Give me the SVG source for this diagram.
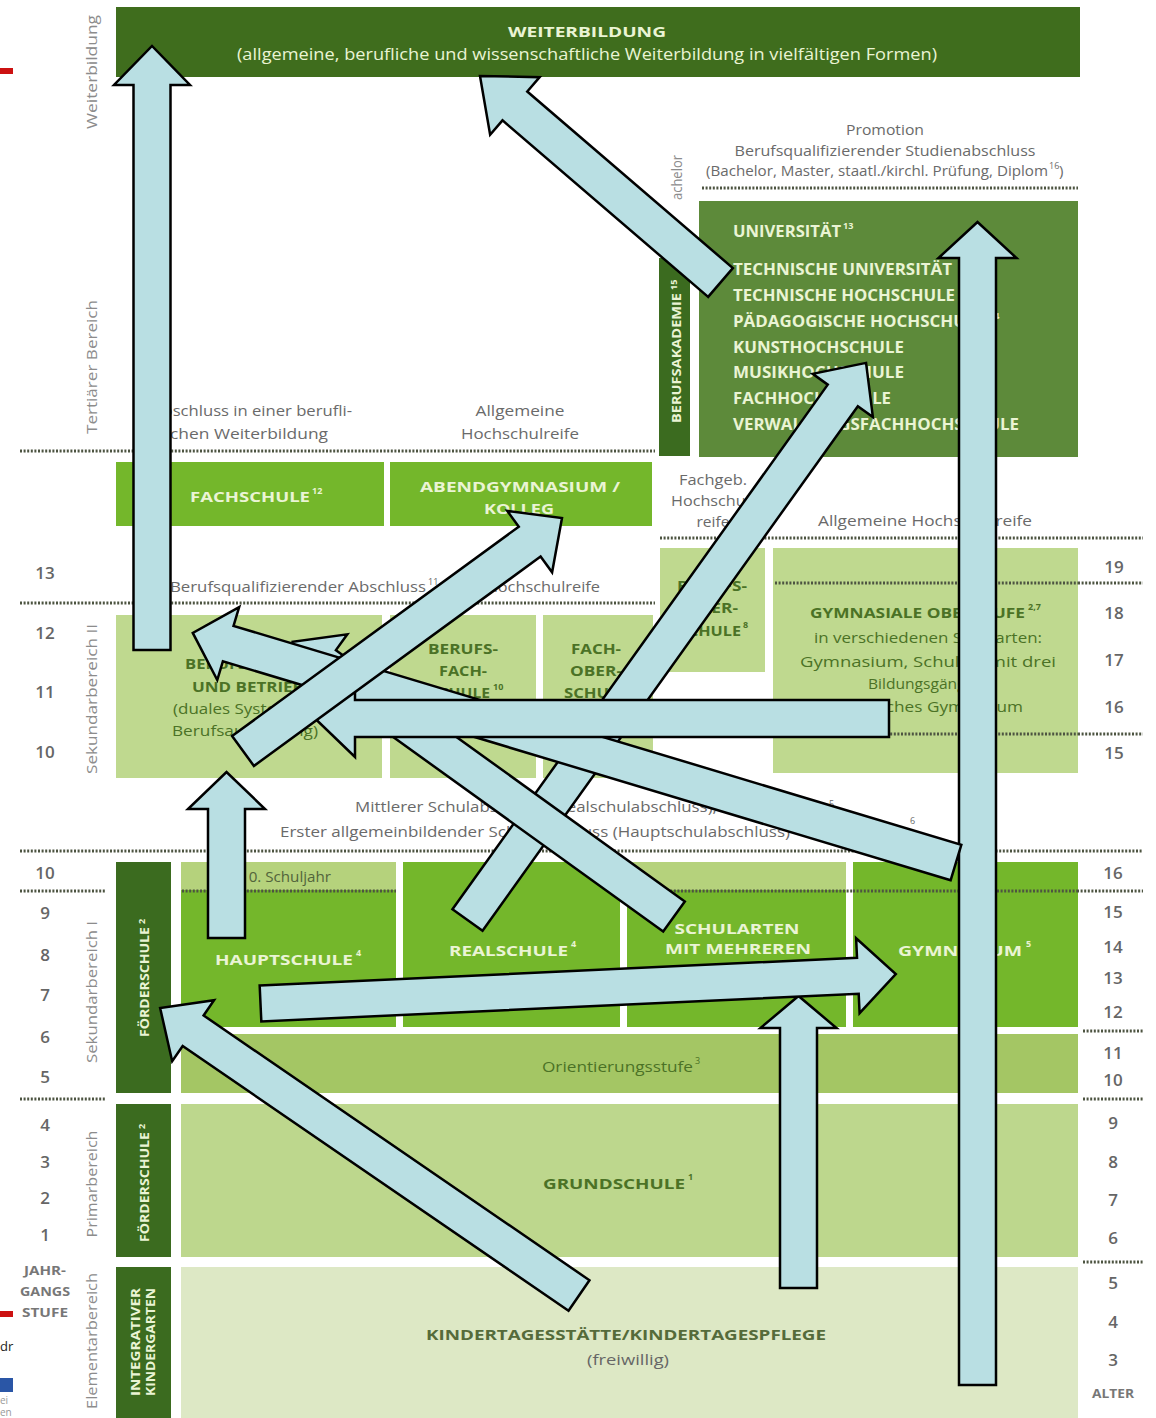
<svg xmlns="http://www.w3.org/2000/svg" width="1156" height="1418" viewBox="0 0 1156 1418">
<style>
text{font-family:"Open Sans","DejaVu Sans",sans-serif}
.g{font-size:15px;fill:#6a6a6a}
.gm{font-size:15px;fill:#6a6a6a;text-anchor:middle}
.side{font-size:15px;fill:#8c8c8c;text-anchor:middle}
.num{font-size:17px;fill:#666;font-weight:600;text-anchor:middle}
.cr{font-weight:700;fill:#eaf4d4;font-size:15px}
.crm{font-weight:700;fill:#eaf4d4;font-size:15px;text-anchor:middle}
.dk{font-weight:700;fill:#4b7226;font-size:15px}
.dkm{font-weight:700;fill:#4b7226;font-size:15px;text-anchor:middle}
.sup{font-size:9px}
.dots{stroke:#4d5441;stroke-width:3;stroke-dasharray:2 1.6;fill:none}
.arr{fill:#b9dfe3;stroke:#000;stroke-width:2.5;stroke-linejoin:miter}
</style>
<rect x="0" y="0" width="1156" height="1418" fill="#fff"/>

<g id="page-marks">
<rect x="0" y="68" width="13" height="6" fill="#cc1111"/>
<rect x="0" y="1311" width="13" height="6" fill="#cc1111"/>
<text x="0" y="1351" style="font-size:13px" fill="#222">dr</text>
<rect x="0" y="1378" width="13" height="14" fill="#2a56a6"/>
<text x="0" y="1404" style="font-size:10px" fill="#999">ei</text>
<text x="0" y="1416" style="font-size:10px" fill="#999">en</text>
</g>

<g id="side-labels">
<text class="side" transform="translate(97,72) rotate(-90)" textLength="114" lengthAdjust="spacingAndGlyphs">Weiterbildung</text>
<text class="side" transform="translate(97,367) rotate(-90)" textLength="134" lengthAdjust="spacingAndGlyphs">Tertiärer Bereich</text>
<text class="side" transform="translate(97,699) rotate(-90)" textLength="150" lengthAdjust="spacingAndGlyphs">Sekundarbereich II</text>
<text class="side" transform="translate(97,992) rotate(-90)" textLength="142" lengthAdjust="spacingAndGlyphs">Sekundarbereich I</text>
<text class="side" transform="translate(97,1184) rotate(-90)" textLength="107" lengthAdjust="spacingAndGlyphs">Primarbereich</text>
<text class="side" transform="translate(97,1341) rotate(-90)" textLength="136" lengthAdjust="spacingAndGlyphs">Elementarbereich</text>
<text class="side" style="text-anchor:start" transform="translate(682,200) rotate(-90)" textLength="45" lengthAdjust="spacingAndGlyphs">achelor</text>
</g>

<g id="levels-left">
<text class="num" x="45" y="579">13</text>
<text class="num" x="45" y="639">12</text>
<text class="num" x="45" y="698">11</text>
<text class="num" x="45" y="758">10</text>
<text class="num" x="45" y="879">10</text>
<text class="num" x="45" y="919">9</text>
<text class="num" x="45" y="961">8</text>
<text class="num" x="45" y="1001">7</text>
<text class="num" x="45" y="1043">6</text>
<text class="num" x="45" y="1083">5</text>
<text class="num" x="45" y="1131">4</text>
<text class="num" x="45" y="1168">3</text>
<text class="num" x="45" y="1204">2</text>
<text class="num" x="45" y="1241">1</text>
<text class="num" style="font-size:13px;font-weight:700;fill:#777" x="45" y="1275" textLength="42" lengthAdjust="spacingAndGlyphs">JAHR-</text>
<text class="num" style="font-size:13px;font-weight:700;fill:#777" x="45" y="1296" textLength="50" lengthAdjust="spacingAndGlyphs">GANGS</text>
<text class="num" style="font-size:13px;font-weight:700;fill:#777" x="45" y="1317" textLength="46" lengthAdjust="spacingAndGlyphs">STUFE</text>
</g>

<g id="ages-right">
<text class="num" x="1114" y="573">19</text>
<text class="num" x="1114" y="619">18</text>
<text class="num" x="1114" y="666">17</text>
<text class="num" x="1114" y="713">16</text>
<text class="num" x="1114" y="759">15</text>
<text class="num" x="1113" y="879">16</text>
<text class="num" x="1113" y="918">15</text>
<text class="num" x="1113" y="953">14</text>
<text class="num" x="1113" y="984">13</text>
<text class="num" x="1113" y="1018">12</text>
<text class="num" x="1113" y="1059">11</text>
<text class="num" x="1113" y="1086">10</text>
<text class="num" x="1113" y="1129">9</text>
<text class="num" x="1113" y="1168">8</text>
<text class="num" x="1113" y="1206">7</text>
<text class="num" x="1113" y="1244">6</text>
<text class="num" x="1113" y="1289">5</text>
<text class="num" x="1113" y="1328">4</text>
<text class="num" x="1113" y="1366">3</text>
<text class="num" style="font-size:12.5px;font-weight:700;fill:#777" x="1113" y="1398" textLength="42" lengthAdjust="spacingAndGlyphs">ALTER</text>
</g>

<g id="dotted-lines">
<line class="dots" x1="702" y1="188" x2="1078" y2="188"/>
<line class="dots" x1="20" y1="451" x2="655" y2="451"/>
<line class="dots" x1="660" y1="538" x2="1143" y2="538"/>
<line class="dots" x1="20" y1="603" x2="655" y2="603"/>
<line class="dots" x1="1078" y1="583" x2="1143" y2="583"/>
<line class="dots" x1="1078" y1="734" x2="1143" y2="734"/>
<line class="dots" x1="20" y1="851" x2="1143" y2="851"/>
<line class="dots" x1="20" y1="891" x2="105" y2="891"/>
<line class="dots" x1="1083" y1="1031" x2="1143" y2="1031"/>
<line class="dots" x1="20" y1="1099" x2="105" y2="1099"/>
<line class="dots" x1="1083" y1="1099" x2="1143" y2="1099"/>
<line class="dots" x1="1083" y1="1262" x2="1143" y2="1262"/>
</g>

<g id="weiterbildung">
<rect x="116" y="7" width="964" height="70" fill="#3f6d1d"/>
<text class="crm" x="587" y="37" textLength="158" lengthAdjust="spacingAndGlyphs">WEITERBILDUNG</text>
<text x="587" y="60" text-anchor="middle" style="font-size:16.5px" fill="#eaf4d4" textLength="700" lengthAdjust="spacingAndGlyphs">(allgemeine, berufliche und wissenschaftliche Weiterbildung in vielfältigen Formen)</text>
</g>

<g id="studienabschluss">
<text class="gm" x="885" y="135" textLength="78" lengthAdjust="spacingAndGlyphs">Promotion</text>
<text class="gm" x="885" y="156" textLength="301" lengthAdjust="spacingAndGlyphs">Berufsqualifizierender Studienabschluss</text>
<text class="g" x="706" y="176" textLength="342" lengthAdjust="spacingAndGlyphs">(Bachelor, Master, staatl./kirchl. Prüfung, Diplom</text>
<text class="g sup" x="1049" y="169">16</text>
<text class="g" x="1059" y="176">)</text>
</g>

<g id="berufsakademie">
<rect x="659" y="258" width="31" height="198" fill="#3b6b1f"/>
<text class="cr" style="font-size:12px" transform="translate(681,423) rotate(-90)" textLength="130" lengthAdjust="spacingAndGlyphs">BERUFSAKADEMIE</text>
<text class="cr sup" transform="translate(677,290) rotate(-90)">15</text>
</g>

<g id="hochschulen">
<rect x="699" y="201" width="379" height="256" fill="#5d8a3a"/>
<text class="cr" style="font-size:16px" x="733" y="237" textLength="108" lengthAdjust="spacingAndGlyphs">UNIVERSITÄT</text>
<text class="cr sup" x="843" y="229">13</text>
<text class="cr" style="font-size:16px" x="733" y="275" textLength="219" lengthAdjust="spacingAndGlyphs">TECHNISCHE UNIVERSITÄT</text>
<text class="cr" style="font-size:16px" x="733" y="301" textLength="222" lengthAdjust="spacingAndGlyphs">TECHNISCHE HOCHSCHULE</text>
<text class="cr" style="font-size:16px" x="733" y="327" textLength="252" lengthAdjust="spacingAndGlyphs">PÄDAGOGISCHE HOCHSCHULE</text>
<text class="cr sup" x="989" y="319">14</text>
<text class="cr" style="font-size:16px" x="733" y="353" textLength="171" lengthAdjust="spacingAndGlyphs">KUNSTHOCHSCHULE</text>
<text class="cr" style="font-size:16px" x="733" y="378" textLength="171" lengthAdjust="spacingAndGlyphs">MUSIKHOCHSCHULE</text>
<text class="cr" style="font-size:16px" x="733" y="404" textLength="158" lengthAdjust="spacingAndGlyphs">FACHHOCHSCHULE</text>
<text class="cr" style="font-size:16px" x="733" y="430" textLength="286" lengthAdjust="spacingAndGlyphs">VERWALTUNGSFACHHOCHSCHULE</text>
</g>

<g id="tertiaer-abschluesse">
<text class="g" x="152" y="416" textLength="200" lengthAdjust="spacingAndGlyphs">Abschluss in einer berufli-</text>
<text class="g" x="170" y="439" textLength="158" lengthAdjust="spacingAndGlyphs">chen Weiterbildung</text>
<text class="gm" x="520" y="416" textLength="89" lengthAdjust="spacingAndGlyphs">Allgemeine</text>
<text class="gm" x="520" y="439" textLength="118" lengthAdjust="spacingAndGlyphs">Hochschulreife</text>
<text class="gm" x="713" y="485" textLength="68" lengthAdjust="spacingAndGlyphs">Fachgeb.</text>
<text class="gm" x="713" y="506" textLength="84" lengthAdjust="spacingAndGlyphs">Hochschul-</text>
<text class="gm" x="713" y="527" textLength="33" lengthAdjust="spacingAndGlyphs">reife</text>
<text class="gm" x="925" y="526" textLength="214" lengthAdjust="spacingAndGlyphs">Allgemeine Hochschulreife</text>
</g>

<g id="fachschule">
<rect x="116" y="462" width="268" height="64" fill="#74b72b"/>
<text class="cr" x="190" y="502" textLength="120" lengthAdjust="spacingAndGlyphs">FACHSCHULE</text>
<text class="cr sup" x="312" y="494">12</text>
</g>

<g id="abendgymnasium">
<rect x="390" y="462" width="262" height="64" fill="#74b72b"/>
<text class="crm" x="520" y="492" textLength="200" lengthAdjust="spacingAndGlyphs">ABENDGYMNASIUM /</text>
<text class="crm" x="519" y="514" textLength="70" lengthAdjust="spacingAndGlyphs">KOLLEG</text>
</g>

<g id="sek2-abschluss">
<text class="g" x="170" y="592" textLength="256" lengthAdjust="spacingAndGlyphs">Berufsqualifizierender Abschluss</text>
<text class="g sup" x="428" y="585">11</text>
<text class="g" x="442" y="592" textLength="158" lengthAdjust="spacingAndGlyphs">/ Fachhochschulreife</text>
</g>

<g id="berufsschule">
<rect x="116" y="615" width="266" height="163" fill="#bfd98f"/>
<text class="dkm" x="248" y="669" textLength="126" lengthAdjust="spacingAndGlyphs">BERUFSSCHULE</text>
<text class="dkm" x="248" y="692" textLength="112" lengthAdjust="spacingAndGlyphs">UND BETRIEB</text>
<text x="248" y="714" text-anchor="middle" style="font-size:15px" fill="#4b7226" textLength="150" lengthAdjust="spacingAndGlyphs">(duales System der</text>
<text x="245" y="736" text-anchor="middle" style="font-size:15px" fill="#4b7226" textLength="146" lengthAdjust="spacingAndGlyphs">Berufsausbildung)</text>
</g>

<g id="berufsfachschule">
<rect x="390" y="615" width="146" height="163" fill="#bfd98f"/>
<text class="dkm" x="463" y="654" textLength="70" lengthAdjust="spacingAndGlyphs">BERUFS-</text>
<text class="dkm" x="463" y="676" textLength="48" lengthAdjust="spacingAndGlyphs">FACH-</text>
<text class="dkm" x="460" y="698" textLength="60" lengthAdjust="spacingAndGlyphs">SCHULE</text>
<text class="dk sup" x="493" y="690">10</text>
</g>

<g id="fachoberschule">
<rect x="543" y="615" width="110" height="163" fill="#bfd98f"/>
<text class="dkm" x="596" y="654" textLength="50" lengthAdjust="spacingAndGlyphs">FACH-</text>
<text class="dkm" x="596" y="676" textLength="52" lengthAdjust="spacingAndGlyphs">OBER-</text>
<text class="dkm" x="596" y="698" textLength="64" lengthAdjust="spacingAndGlyphs">SCHULE</text>
</g>

<g id="berufsoberschule">
<rect x="660" y="548" width="105" height="124" fill="#bfd98f"/>
<text class="dkm" x="712" y="591" textLength="70" lengthAdjust="spacingAndGlyphs">BERUFS-</text>
<text class="dkm" x="712" y="613" textLength="52" lengthAdjust="spacingAndGlyphs">OBER-</text>
<text class="dkm" x="710" y="636" textLength="62" lengthAdjust="spacingAndGlyphs">SCHULE</text>
<text class="dk sup" x="743" y="628">8</text>
</g>

<g id="gymnasiale-oberstufe">
<rect x="773" y="548" width="305" height="225" fill="#bfd98f"/>
<line class="dots" x1="775" y1="583" x2="1078" y2="583"/>
<line class="dots" x1="775" y1="734" x2="1078" y2="734"/>
<text class="dk" x="810" y="618" textLength="215" lengthAdjust="spacingAndGlyphs">GYMNASIALE OBERSTUFE</text>
<text class="dk sup" x="1028" y="610">2,7</text>
<text x="928" y="643" text-anchor="middle" style="font-size:15px" fill="#4b7226" textLength="228" lengthAdjust="spacingAndGlyphs">in verschiedenen Schularten:</text>
<text x="928" y="667" text-anchor="middle" style="font-size:15px" fill="#4b7226" textLength="256" lengthAdjust="spacingAndGlyphs">Gymnasium, Schulart mit drei</text>
<text x="928" y="689" text-anchor="middle" style="font-size:15px" fill="#4b7226" textLength="120" lengthAdjust="spacingAndGlyphs">Bildungsgängen,</text>
<text x="928" y="712" text-anchor="middle" style="font-size:15px" fill="#4b7226" textLength="190" lengthAdjust="spacingAndGlyphs">Berufliches Gymnasium</text>
</g>

<g id="sek1-abschluesse">
<text class="g" x="355" y="812" textLength="362" lengthAdjust="spacingAndGlyphs">Mittlerer Schulabschluss (Realschulabschluss),</text>
<text class="g sup" x="829" y="807">5</text>
<text class="g" x="280" y="837" textLength="510" lengthAdjust="spacingAndGlyphs">Erster allgemeinbildender Schulabschluss (Hauptschulabschluss)</text>
<text class="g sup" x="910" y="824">6</text>
</g>

<g id="foerderschule-sek1">
<rect x="116" y="862" width="55" height="231" fill="#3b6b1f"/>
<text class="cr" style="font-size:12.5px" transform="translate(149,1037) rotate(-90)" textLength="110" lengthAdjust="spacingAndGlyphs">FÖRDERSCHULE</text>
<text class="cr sup" transform="translate(145,924) rotate(-90)">2</text>
</g>

<g id="hauptschule">
<rect x="181" y="862" width="215" height="165" fill="#74b72b"/>
<rect x="181" y="862" width="215" height="28" fill="#b5d27c"/>
<line class="dots" x1="182" y1="891" x2="396" y2="891"/>
<text x="240" y="882" style="font-size:14px" fill="#52643b" textLength="91" lengthAdjust="spacingAndGlyphs">10. Schuljahr</text>
<text class="cr" x="215" y="965" textLength="138" lengthAdjust="spacingAndGlyphs">HAUPTSCHULE</text>
<text class="cr sup" x="356" y="956">4</text>
</g>

<g id="realschule">
<rect x="403" y="862" width="217" height="165" fill="#74b72b"/>
<text class="cr" x="449" y="956" textLength="119" lengthAdjust="spacingAndGlyphs">REALSCHULE</text>
<text class="cr sup" x="571" y="947">4</text>
</g>

<g id="schularten">
<rect x="627" y="862" width="219" height="165" fill="#74b72b"/>
<rect x="627" y="862" width="219" height="28" fill="#b5d27c"/>
<line class="dots" x1="627" y1="891" x2="1143" y2="891"/>
<text class="crm" x="737" y="934" textLength="125" lengthAdjust="spacingAndGlyphs">SCHULARTEN</text>
<text class="crm" x="738" y="954" textLength="146" lengthAdjust="spacingAndGlyphs">MIT MEHREREN</text>
</g>

<g id="gymnasium">
<rect x="853" y="862" width="225" height="165" fill="#74b72b"/>
<line class="dots" x1="853" y1="891" x2="1078" y2="891"/>
<text class="cr" x="898" y="956" textLength="124" lengthAdjust="spacingAndGlyphs">GYMNASIUM</text>
<text class="cr sup" x="1026" y="947">5</text>
</g>

<g id="orientierungsstufe">
<rect x="181" y="1034" width="897" height="59" fill="#a4c664"/>
<text x="542" y="1072" style="font-size:15px" fill="#4b7226" textLength="151" lengthAdjust="spacingAndGlyphs">Orientierungsstufe</text>
<text class="sup" x="695" y="1064" fill="#4b7226">3</text>
</g>

<g id="foerderschule-primar">
<rect x="116" y="1104" width="55" height="153" fill="#3b6b1f"/>
<text class="cr" style="font-size:12.5px" transform="translate(149,1242) rotate(-90)" textLength="110" lengthAdjust="spacingAndGlyphs">FÖRDERSCHULE</text>
<text class="cr sup" transform="translate(145,1129) rotate(-90)">2</text>
</g>

<g id="grundschule">
<rect x="181" y="1104" width="897" height="153" fill="#bdd78d"/>
<text class="dk" x="543" y="1189" textLength="142" lengthAdjust="spacingAndGlyphs">GRUNDSCHULE</text>
<text class="dk sup" x="688" y="1180">1</text>
</g>

<g id="integrativer-kindergarten">
<rect x="116" y="1267" width="55" height="151" fill="#3b6b1f"/>
<text class="crm" style="font-size:11.5px" transform="translate(140,1342) rotate(-90)" textLength="108" lengthAdjust="spacingAndGlyphs">INTEGRATIVER</text>
<text class="crm" style="font-size:11.5px" transform="translate(155,1342) rotate(-90)" textLength="108" lengthAdjust="spacingAndGlyphs">KINDERGARTEN</text>
</g>

<g id="kindertagesstaette">
<rect x="181" y="1267" width="897" height="151" fill="#dde8c5"/>
<text x="426" y="1340" style="font-size:15px;font-weight:700" fill="#556b3a" textLength="400" lengthAdjust="spacingAndGlyphs">KINDERTAGESSTÄTTE/KINDERTAGESPFLEGE</text>
<text x="628" y="1365" text-anchor="middle" style="font-size:14.5px" fill="#666" textLength="82" lengthAdjust="spacingAndGlyphs">(freiwillig)</text>
</g>

<g id="connectors">
<polygon class="arr" transform="translate(977.5,1385) rotate(-90)" points="0,-18.5 1127,-18.5 1127,-39 1163,0 1127,39 1127,18.5 0,18.5"/>
<polygon class="arr" transform="translate(152,650) rotate(-90)" points="0,-18.5 565,-18.5 565,-38 604,0 565,38 565,18.5 0,18.5"/>
<polygon class="arr" transform="translate(720.5,282.5) rotate(-139.35)" points="0,-19 271,-19 271,-38 317,0 271,38 271,19 0,19"/>
<polygon class="arr" transform="translate(798.5,1288) rotate(-90)" points="0,-18.5 260,-18.5 260,-38 292,0 260,38 260,18.5 0,18.5"/>
<polygon class="arr" transform="translate(260.5,1003.5) rotate(-2.66)" points="0,-18 598,-18 598,-37.5 636,0 598,37.5 598,18 0,18"/>
<polygon class="arr" transform="translate(226.5,938) rotate(-90)" points="0,-18.5 129,-18.5 129,-38.5 166,0 129,38.5 129,18.5 0,18.5"/>
<polygon class="arr" transform="translate(579,1295.5) rotate(-145.54)" points="0,-18.5 468,-18.5 468,-37 508,0 468,37 468,18.5 0,18.5"/>
<polygon class="arr" transform="translate(467.5,920) rotate(-54.42)" points="0,-18.5 645,-18.5 645,-37 685,0 645,37 645,18.5 0,18.5"/>
<polygon class="arr" transform="translate(674,916.5) rotate(-144.23)" points="0,-18.5 430,-18.5 430,-38 470,0 430,38 430,18.5 0,18.5"/>
<polygon class="arr" transform="translate(956,862.5) rotate(-163.26)" points="0,-18.5 760,-18.5 760,-38 797,0 760,38 760,18.5 0,18.5"/>
<polygon class="arr" transform="translate(889,718.5) rotate(180)" points="0,-18.5 534,-18.5 534,-38.5 574,0 534,38.5 534,18.5 0,18.5"/>
<polygon class="arr" transform="translate(243,751) rotate(-36.14)" points="0,-18.5 355,-18.5 355,-38 395,0 355,38 355,18.5 0,18.5"/>
</g>
</svg>
